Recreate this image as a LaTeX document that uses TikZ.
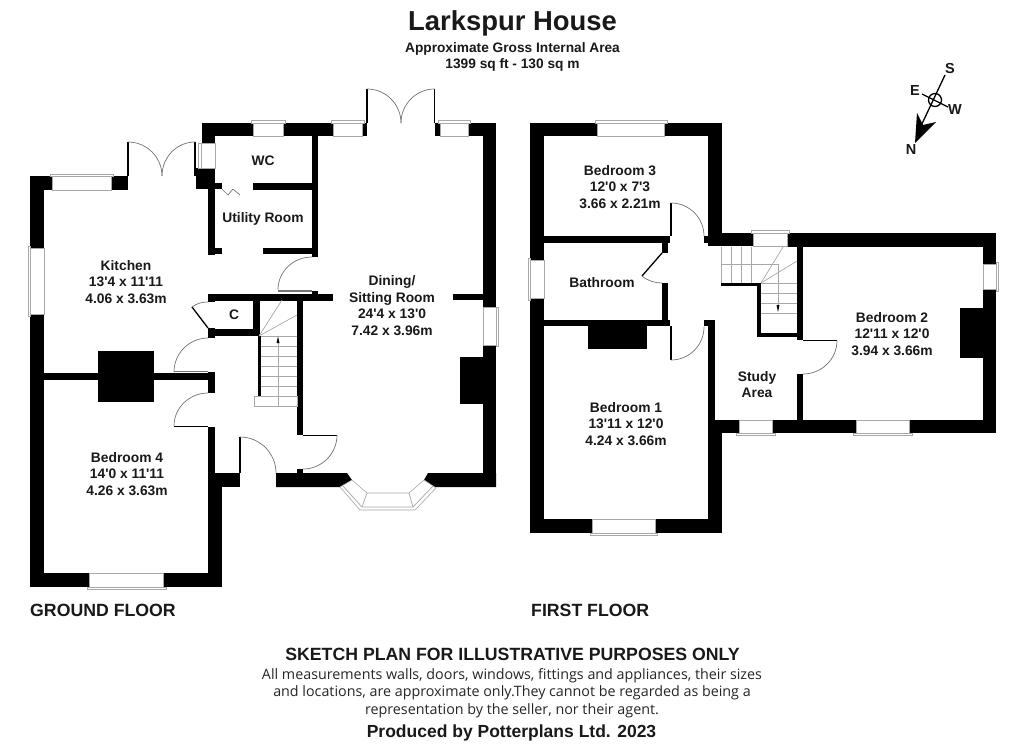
\documentclass[tikz,border=0pt]{standalone}
\usepackage{fontspec}
\setmainfont{Liberation Sans}[Ligatures=TeXOff]
\newfontfamily\bodyfont{Open Sans}[Ligatures=TeXOff]
\usetikzlibrary{calc}
\definecolor{winline}{gray}{0.66}
\definecolor{doorline}{gray}{0.45}
\tikzset{
  wall/.style={fill=black},
  lbl/.style={font=\fontsize{13.8}{16.6}\selectfont\bfseries,align=center,inner sep=0pt,text=black!90},
  hdr/.style={font=\fontsize{14.5}{16}\selectfont\bfseries,align=center,inner sep=0pt,text=black!90},
  foot/.style={font=\fontsize{14.3}{17.5}\selectfont\bodyfont,align=center,inner sep=0pt,text=black!85},
  win/.style={draw=winline,line width=0.6pt,fill=white},
  door/.style={draw=doorline,line width=0.7pt},
  leaf/.style={draw=black,line width=1.3pt},
  tread/.style={draw=winline,line width=0.7pt},
}
\newcommand{\W}[4]{\fill[wall] (#1,#2) rectangle (#3,#4);}
\newcommand{\QA}[6]{\draw[door] (#1,#2) .. controls ($(#1,#2)!0.552!(#5,#6)$) and ($(#3,#4)!0.552!(#5,#6)$) .. (#3,#4);}
\begin{document}
\begin{tikzpicture}[x=1pt,y=-1pt]
\useasboundingbox (0,0) rectangle (1024,748);
\fill[white] (0,0) rectangle (1024,748);

% ---------- GROUND FLOOR walls
\W{30}{176}{44}{587}
\W{30}{176}{52}{190}
\W{111}{176}{128}{190}
\W{196}{168}{215}{189}
\W{202}{123}{215}{143}
\W{202}{123}{253}{136}
\W{283}{123}{333}{136}
\W{362}{123}{367}{136}
\W{435}{123}{440}{136}
\W{468}{123}{496}{136}
\W{483}{123}{496}{487}
\W{460}{357}{483}{404}
\W{312}{136}{318}{257}
\W{253}{183}{312}{190}
\W{196}{183}{222}{189}
\W{208}{189}{215}{255}
\W{208}{248}{222}{254}
\W{263}{248}{312}{254}
\W{208}{294}{333}{300.5}
\W{312}{291}{318}{294}
\W{453}{293.5}{483}{300}
\W{208}{294}{215}{302}
\W{208}{328}{215}{338}
\W{215}{329}{258}{336}
\W{253}{300}{260}{336}
\W{257.5}{336}{261}{396}
\W{297}{300}{303}{435}
\W{44}{373}{208}{380}
\W{98}{351}{154}{402}
\W{208}{372}{215}{393}
\W{208}{427}{215}{587}
\W{208}{473}{222}{587}
\W{215}{473}{240}{487}
\W{30}{573}{222}{587}
\W{297}{469}{303}{473}
\fill[wall] (276,473) -- (347,473) -- (352,480) -- (343,487) -- (276,487) -- cycle;
\fill[wall] (428,473) -- (496,473) -- (496,487) -- (435,487) -- (424,480) -- cycle;

% windows, ground floor
\draw[win] (52,176) rectangle (111,190);
\draw[win] (50,174) rectangle (113,176);
\draw[win] (30,248) rectangle (44,314);
\draw[win] (28,246) rectangle (30,316);
\draw[win] (198,143) rectangle (215,168);
\draw[win] (198,143) rectangle (201,168);
\draw[win] (253,123) rectangle (283,136);
\draw[win] (251,120.5) rectangle (285,123);
\draw[win] (333,123) rectangle (362,136);
\draw[win] (331,120.5) rectangle (364,123);
\draw[win] (440,123) rectangle (468,136);
\draw[win] (438,120.5) rectangle (470,123);
\draw[win] (483,307) rectangle (496,345);
\draw[win] (496,307) rectangle (498,346);
\draw[win] (89,573) rectangle (163,587);
\draw[win] (87,587) rectangle (166,589);
% bay window
\draw[win] (352,480) -- (367,493) -- (409,493) -- (424,480) -- (436,488) -- (415,510) -- (360,510) -- (340,487) -- cycle;
\draw[door,draw=winline] (343,486) -- (362,507) -- (413,507) -- (433,486);
\draw[door,draw=winline] (367,493) -- (362,507);
\draw[door,draw=winline] (409,493) -- (413,507);

% doors, ground floor
\draw[leaf] (128,176) -- (128,142);
\draw[leaf] (195,176) -- (195,142);
\QA{128}{142}{162}{176}{162}{142}
\QA{195}{142}{162}{176}{162}{142}
\draw[leaf] (367,123) -- (367,89);
\draw[leaf] (434.5,123) -- (434.5,89);
\QA{367}{89}{401}{123}{401}{89}
\QA{434.5}{89}{401}{123}{401}{89}
\QA{312}{257}{278}{289.5}{278}{257}
\draw[door] (278,290) -- (312,290);
\draw[door] (278,291.5) -- (312,291.5);
\draw[leaf] (192,307) -- (208,328);
\draw[door] (192,307) .. controls (197,303) and (203,302) .. (208,302);
\QA{174}{372}{208}{338}{174}{338}
\draw[door] (174,371.5) -- (208,371.5);
\QA{208}{393}{174}{426}{174}{393}
\draw[leaf] (174,426.3) -- (208,426.3);
\draw[leaf] (240,473) -- (240,437);
\QA{240}{437}{276}{473}{276}{437}
\draw[door,draw=black] (303,435) -- (337,435);
\QA{337}{435}{303}{469}{337}{469}
\draw[door] (222,189) -- (228,195) -- (233,189) -- (240,195);

% stairs, ground floor
\foreach \ty in {346,356,...,396} {\draw[tread] (261,\ty) -- (297,\ty);}
\draw[tread] (261,336) -- (297,336);
\draw[tread] (254.5,396) rectangle (297,406.5);
\draw[tread] (278,406.5) -- (278,340);
\fill[black] (278,336.5) -- (276.5,343) -- (279.5,343) -- cycle;
\draw[tread] (259,336) -- (282,300);
\draw[tread] (259,336) -- (297,315);

% ---------- FIRST FLOOR walls
\W{530}{123}{722}{136}
\W{530}{123}{544}{533}
\W{530}{519}{722}{533}
\W{708}{123}{722}{246}
\W{708}{233}{753}{246}
\W{704}{236}{708}{243}
\W{787}{233}{996}{247}
\W{983}{233}{996}{433}
\W{960}{308}{983}{358}
\W{715}{420}{996}{433}
\W{797}{247}{803}{340}
\W{797}{374}{803}{420}
\W{757}{333}{797}{337}
\W{757}{283}{761}{337}
\W{721}{283}{761}{286}
\W{708}{320}{715}{433}
\W{704}{320}{715}{326}
\W{708}{420}{722}{533}
\W{544}{236}{670}{243}
\W{662}{243}{668}{253}
\W{662}{283}{668}{320}
\W{544}{320}{670}{326}
\W{588}{326}{647}{349}

% windows, first floor
\draw[win] (597,123) rectangle (664,136);
\draw[win] (595,120) rectangle (667,123);
\draw[win] (530,260) rectangle (544,298);
\draw[win] (528,258) rectangle (530,300);
\draw[win] (592,519) rectangle (655,533);
\draw[win] (590,533) rectangle (657,535);
\draw[win] (753,233) rectangle (787,246);
\draw[win] (751,230) rectangle (789,233);
\draw[win] (983,264) rectangle (996,289);
\draw[win] (996,262) rectangle (998,291);
\draw[win] (739,420) rectangle (772,433);
\draw[win] (736,433) rectangle (775,435.5);
\draw[win] (856,420) rectangle (909,433);
\draw[win] (853,433) rectangle (912,435.5);

% doors, first floor
\draw[leaf] (671,236) -- (671,203);
\QA{671}{203}{704}{236}{704}{203}
\draw[leaf] (662,253) -- (642,276);
\draw[door] (642,276) .. controls (648,281) and (655,283) .. (662,283);
\draw[leaf] (671,326) -- (671,360);
\QA{671}{360}{704}{327}{704}{360}
\draw[leaf] (803,340.5) -- (837,340.5);
\QA{837}{340.5}{803}{374}{837}{374}

% stairs, first floor
\foreach \tx in {721,731,741,751} {\draw[tread] (\tx,247) -- (\tx,283);}
\draw[tread] (721,264) -- (778,264) -- (778,308);
\fill[black] (778,312) -- (776.5,305) -- (779.5,305) -- cycle;
\foreach \ty in {283,293,303,313} {\draw[tread] (761,\ty) -- (797,\ty);}
\draw[tread] (761,283) -- (783,247);
\draw[tread] (761,283) -- (797,261);

% ---------- compass
\draw[line width=1.3pt] (945,75) -- (920,128);
\draw[line width=1.3pt] (922,94) -- (948,107);
\draw[line width=1.3pt] (935,100) circle (6.5);
\fill (915,143) -- (917,113) -- (923,125) -- (936,122) -- cycle;
\node[hdr] (compS) at (950,68.5) {S};
\node[hdr] (compE) at (915,91) {E};
\node[hdr] (compW) at (955,110) {W};
\node[hdr] (compN) at (911,150) {N};

% ---------- labels
\node[hdr,font=\fontsize{27.4}{30}\selectfont\bfseries] (title) at (512.5,23.5) {Larkspur House};
\node[hdr,font=\fontsize{13.7}{16}\selectfont\bfseries] (sub) at (512.5,56.5) {Approximate Gross Internal Area\\1399 sq ft - 130 sq m};
\node[lbl] (kitchen) at (126,282) {Kitchen\\13'4 x 11'11\\4.06 x 3.63m};
\node[lbl] (wc) at (263,160.5) {WC};
\node[lbl] (utility) at (263,218.5) {Utility Room};
\node[lbl] (cup) at (234,315) {C};
\node[lbl] (dining) at (392,305.5) {Dining/\\Sitting Room\\24'4 x 13'0\\7.42 x 3.96m};
\node[lbl] (bed4) at (127,474) {Bedroom 4\\14'0 x 11'11\\4.26 x 3.63m};
\node[lbl] (bed3) at (620,187) {Bedroom 3\\12'0 x 7'3\\3.66 x 2.21m};
\node[lbl] (bath) at (602,282.5) {Bathroom};
\node[lbl] (bed1) at (626,424) {Bedroom 1\\13'11 x 12'0\\4.24 x 3.66m};
\node[lbl] (study) at (757,384.5) {Study\\Area};
\node[lbl] (bed2) at (892,334) {Bedroom 2\\12'11 x 12'0\\3.94 x 3.66m};
\node[hdr,font=\fontsize{17.7}{20}\selectfont\bfseries,anchor=west] (gf) at (30,610) {GROUND FLOOR};
\node[hdr,font=\fontsize{17.7}{20}\selectfont\bfseries,anchor=west] (ff) at (531,610) {FIRST FLOOR};
\node[hdr,font=\fontsize{17.7}{20}\selectfont\bfseries] (sketch) at (512.5,654) {SKETCH PLAN FOR ILLUSTRATIVE PURPOSES ONLY};
\node[foot] (note) at (512,693) {All measurements walls, doors, windows, fittings and appliances, their sizes\\and locations, are approximate only.They cannot be regarded as being a\\representation by the seller, nor their agent.};
\node[hdr,font=\fontsize{17.5}{20}\selectfont\bfseries] (prod) at (511.5,733) {Produced by Potterplans Ltd. 2023};
\end{tikzpicture}
\end{document}
